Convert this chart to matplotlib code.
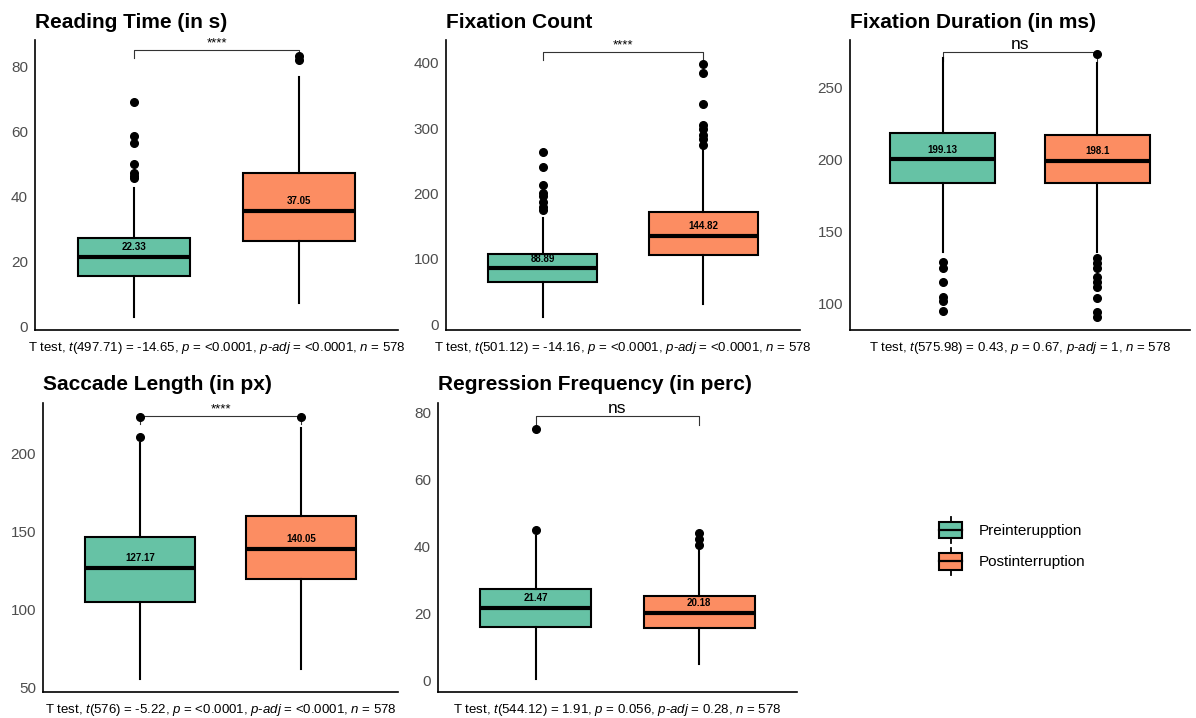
import matplotlib.pyplot as plt
from matplotlib.patches import Rectangle
from matplotlib.lines import Line2D
from matplotlib.legend_handler import HandlerBase

plt.rcParams['font.family'] = ['Liberation Sans', 'DejaVu Sans']
plt.rcParams['mathtext.fontset'] = 'custom'
plt.rcParams['mathtext.rm'] = 'Liberation Sans'
plt.rcParams['mathtext.it'] = 'Liberation Sans:italic'

groups = ['Preinterupption', 'Postinterruption']
colors = ['#66C2A5', '#FC8D62']

titles = ['Reading Time (in s)', 'Fixation Count', 'Fixation Duration (in ms)',
          'Saccade Length (in px)', 'Regression Frequency (in perc)']

# box statistics, [pre, post] per panel
q1s = [[15.5, 26.1], [64, 106], [183.3, 183.3], [105, 120], [16.1, 15.8]]
medians = [[21.2, 35.4], [85.5, 135], [200, 198.8], [127, 139], [21.8, 20.3]]
q3s = [[27, 47], [107, 172], [217.9, 216.8], [146.8, 160.3], [27.4, 25.3]]
whislo = [[2.8, 7.1], [11, 31], [136, 136], [55.8, 62], [0.5, 5]]
whishi = [[42.5, 76.7], [162, 270], [270, 266.5], [207, 216.6], [43.2, 39.5]]
outliers = [
    [[69, 58.4, 56.2, 50, 47.2, 46.3, 45.6], [83, 82]],
    [[264, 241, 213, 200, 196, 187, 180, 175], [398, 384, 337, 305, 298, 290, 283, 275]],
    [[129, 124.6, 115, 104.8, 102, 95], [273, 131.8, 128.3, 124.6, 118.7, 115, 111.8, 104, 94.5, 91]],
    [[210.6, 224], [224]],
    [[45, 75], [44, 42.2, 40.5]],
]
means = [[22.33, 37.05], [88.89, 144.82], [199.13, 198.1], [127.17, 140.05], [21.47, 20.18]]

sig_labels = ['****', '****', 'ns', '****', 'ns']
bracket_y = [85, 417, 274, 224.5, 78.8]

ylims = [(-1.2, 88), (-9, 435), (82, 282.5), (47.4, 232.7), (-3.3, 82.7)]
yticks = [[0, 20, 40, 60, 80], [0, 100, 200, 300, 400], [100, 150, 200, 250],
          [50, 100, 150, 200], [0, 20, 40, 60, 80]]

captions = [
    r"T test, $\mathit{t}$(497.71) = -14.65, $\mathit{p}$ = <0.0001, $\mathit{p}$-$\mathit{adj}$ = <0.0001, $\mathit{n}$ = 578",
    r"T test, $\mathit{t}$(501.12) = -14.16, $\mathit{p}$ = <0.0001, $\mathit{p}$-$\mathit{adj}$ = <0.0001, $\mathit{n}$ = 578",
    r"T test, $\mathit{t}$(575.98) = 0.43, $\mathit{p}$ = 0.67, $\mathit{p}$-$\mathit{adj}$ = 1, $\mathit{n}$ = 578",
    r"T test, $\mathit{t}$(576) = -5.22, $\mathit{p}$ = <0.0001, $\mathit{p}$-$\mathit{adj}$ = <0.0001, $\mathit{n}$ = 578",
    r"T test, $\mathit{t}$(544.12) = 1.91, $\mathit{p}$ = 0.056, $\mathit{p}$-$\mathit{adj}$ = 0.28, $\mathit{n}$ = 578",
]

# panel rectangles in pixels: left, right, top, bottom
W, H = 1196, 718
boxes_px = [(35, 398, 40, 330), (446, 800, 40, 330), (850, 1190, 40, 330),
            (43, 398, 403, 692), (438, 797, 403, 692)]

fig = plt.figure(figsize=(W / 100, H / 100), dpi=100)

for i in range(5):
    l, r, t, b = boxes_px[i]
    ax = fig.add_axes([l / W, 1 - b / H, (r - l) / W, (b - t) / H])
    stats = []
    for g in range(2):
        stats.append(dict(q1=q1s[i][g], med=medians[i][g], q3=q3s[i][g],
                          whislo=whislo[i][g], whishi=whishi[i][g],
                          fliers=outliers[i][g], mean=means[i][g]))
    bp = ax.bxp(stats, positions=[1, 2], widths=0.68, patch_artist=True,
                showcaps=False,
                boxprops=dict(linewidth=1.5, edgecolor='black'),
                medianprops=dict(color='black', linewidth=3),
                whiskerprops=dict(color='black', linewidth=1.5),
                flierprops=dict(marker='o', markerfacecolor='black',
                                markeredgecolor='black', markersize=5.5))
    for patch, c in zip(bp['boxes'], colors):
        patch.set_facecolor(c)

    for g in range(2):
        ax.annotate(f"{means[i][g]:g}", xy=(g + 1, medians[i][g]),
                    xytext=(0, 7), textcoords='offset points',
                    ha='center', va='center', fontsize=7, fontweight='bold')

    ax.set_xlim(0.4, 2.6)
    ax.set_ylim(*ylims[i])
    ax.set_yticks(yticks[i])
    ax.tick_params(axis='y', length=0, labelsize=11, labelcolor='#4d4d4d', pad=5)
    ax.set_xticks([])
    for s in ['top', 'right']:
        ax.spines[s].set_visible(False)
    for s in ['left', 'bottom']:
        ax.spines[s].set_linewidth(1.2)

    # significance bracket
    tip = 0.03 * (ylims[i][1] - ylims[i][0])
    by = bracket_y[i]
    ax.plot([1, 1, 2, 2], [by - tip, by, by, by - tip], color='#333333',
            linewidth=0.8, clip_on=False, zorder=1)
    if sig_labels[i] == 'ns':
        ax.text(1.5, by, 'ns', ha='center', va='bottom', fontsize=12.5)
    else:
        ax.text(1.5, by, sig_labels[i], ha='center', va='bottom', fontsize=9.5)

    ax.set_title(titles[i], loc='left', fontsize=15, fontweight='bold', pad=9)
    ax.annotate(captions[i], xy=(0.5, 0), xycoords='axes fraction',
                xytext=(0, -7), textcoords='offset points',
                ha='center', va='top', fontsize=9.5)


class BoxHandler(HandlerBase):
    def create_artists(self, legend, orig_handle, xdescent, ydescent,
                       width, height, fontsize, trans):
        cx = width / 2 - xdescent
        bw = 16.5
        bh = 12.0
        cy = -ydescent + height / 2
        y0 = cy - bh / 2
        rect = Rectangle((cx - bw / 2, y0), bw, bh,
                         facecolor=orig_handle.get_facecolor(),
                         edgecolor='black', linewidth=1.5, transform=trans)
        med = Line2D([cx - bw / 2, cx + bw / 2], [cy, cy],
                     color='black', linewidth=1.6, transform=trans)
        wl = Line2D([cx, cx], [y0 - 3.5, y0], color='black',
                    linewidth=1.3, transform=trans)
        wh = Line2D([cx, cx], [y0 + bh, y0 + bh + 3.5], color='black',
                    linewidth=1.3, transform=trans)
        return [rect, med, wl, wh]


handles = [Rectangle((0, 0), 1, 1, facecolor=c) for c in colors]
fig.legend(handles, groups, loc='center left', bbox_to_anchor=(0.772, 0.24),
           frameon=False, fontsize=11, handler_map={Rectangle: BoxHandler()},
           handlelength=1.8, handleheight=1.4, handletextpad=0.9,
           labelspacing=0.9)

fig.savefig('out.png', dpi=100)
